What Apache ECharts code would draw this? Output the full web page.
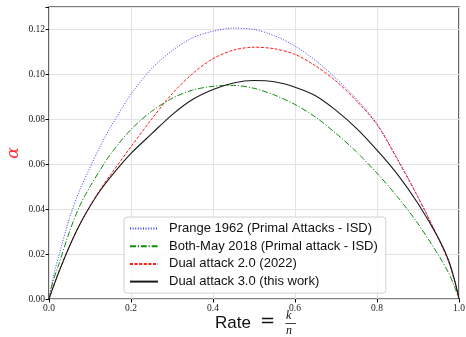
<!DOCTYPE html>
<html><head><meta charset="utf-8">
<script src="https://cdn.jsdelivr.net/npm/echarts@6/dist/echarts.min.js"></script>
<style>html,body{margin:0;padding:0;background:#fff}#c{width:466px;height:337px}</style>
</head><body><div id="c"></div>
<script>
var rates = [0, 0.01, 0.025, 0.05, 0.075, 0.1, 0.125, 0.15, 0.2, 0.25, 0.3, 0.35, 0.4, 0.45, 0.5, 0.55, 0.6, 0.65, 0.7, 0.75, 0.8, 0.85, 0.9, 0.95, 0.975, 0.99, 1.0];
var prange1962 = [0, 0.0095, 0.020, 0.036, 0.0485, 0.0585, 0.068, 0.0765, 0.0912, 0.1025, 0.1105, 0.1163, 0.1192, 0.1206, 0.1200, 0.1172, 0.1126, 0.1062, 0.0982, 0.0890, 0.0780, 0.0625, 0.0455, 0.0270, 0.0165, 0.0075, 0];
var bothMay2018 = [0, 0.008, 0.016, 0.030, 0.0415, 0.050, 0.0575, 0.0645, 0.0755, 0.0835, 0.0893, 0.0930, 0.0947, 0.0951, 0.0938, 0.0908, 0.0866, 0.0810, 0.0737, 0.0655, 0.0560, 0.0455, 0.0335, 0.0195, 0.0115, 0.0050, 0];
var dual2022 = [0, 0.0052, 0.0125, 0.0235, 0.0332, 0.0413, 0.0488, 0.0553, 0.0678, 0.0800, 0.0913, 0.1003, 0.1070, 0.1108, 0.1121, 0.1114, 0.1089, 0.1038, 0.0970, 0.0882, 0.0777, 0.0620, 0.0453, 0.0268, 0.0165, 0.0075, 0];
var dual3 = [0, 0.0052, 0.0125, 0.0235, 0.0332, 0.0413, 0.0483, 0.0543, 0.0648, 0.0735, 0.0820, 0.0888, 0.0933, 0.0962, 0.0973, 0.0967, 0.0943, 0.0905, 0.0840, 0.0760, 0.0663, 0.0555, 0.0425, 0.0270, 0.0170, 0.0078, 0];
var names = ['Prange 1962 (Primal Attacks - ISD)', 'Both-May 2018 (Primal attack - ISD)', 'Dual attack 2.0 (2022)', 'Dual attack 3.0 (this work)'];

function pairs(v){ return rates.map(function(r,i){ return [r, v[i]]; }); }

var chart = echarts.init(document.getElementById('c'), null, {renderer:'canvas'});
var tickFont = {fontFamily:'Liberation Serif', fontSize:9.5, color:'#222'};
function mk(name, vals, color, type, w){
  return {name:name, type:'line', data:pairs(vals), smooth:0.3, showSymbol:false, symbol:'none',
    lineStyle:{color:color, width:w, type:type}, itemStyle:{color:color}, z: 3};
}
chart.setOption({
  animation:false,
  grid:{left:49, right:7, top:7, bottom:38, show:true, borderColor:'#000', borderWidth:1.2, backgroundColor:'transparent', containLabel:false, outerBoundsMode:'none'},
  xAxis:{type:'value', min:0, max:1, interval:0.2,
    axisLine:{show:false}, axisTick:{show:true, inside:false, length:3.5, lineStyle:{color:'#000'}},
    axisLabel:Object.assign({margin:4, formatter:function(v){return v.toFixed(1);}}, tickFont),
    splitLine:{show:true, lineStyle:{color:'#e3e3e3', width:1}}},
  yAxis:{type:'value', min:0, max:0.13, interval:0.02,
    axisLine:{show:false}, axisTick:{show:true, inside:false, length:3.5, lineStyle:{color:'#000'}},
    axisLabel:Object.assign({margin:4, formatter:function(v){return v>0.125?'':v.toFixed(2);}}, tickFont),
    splitLine:{show:true, lineStyle:{color:'#e3e3e3', width:1}},
    name:'α', nameLocation:'middle', nameRotate:90, nameGap:27, nameMoveOverlap:false,
    nameTextStyle:{color:'#ff3333', fontFamily:'DejaVu Serif', fontStyle:'italic', fontSize:17}},
  legend:{orient:'vertical', left:124, top:217, itemWidth:28, itemHeight:10, itemGap:4.7,
    padding:[5,8,5,5], backgroundColor:'rgba(255,255,255,0.85)', borderColor:'#d0d0d0', borderWidth:1, borderRadius:3,
    itemStyle:{opacity:0},
    textStyle:{fontFamily:'Liberation Sans', fontSize:13, lineHeight:12, color:'#111', padding:[0,0,0,6]},
    data:names},
  series:[
    mk(names[0], prange1962, '#3a3aff', [1,1.6], 1),
    mk(names[1], bothMay2018, '#138a13', [6,1.8,1.2,1.8], 1),
    mk(names[2], dual2022, '#ff1a1a', [3,1.6], 1),
    mk(names[3], dual3, '#1a1a1a', 'solid', 1.1)
  ],
  graphic:[
    {type:'text', left:215, top:315, style:{text:'Rate', font:'17px "Liberation Sans"', fill:'#111'}},
    {type:'text', left:260, top:312, style:{text:'=', font:'18px "DejaVu Sans"', fill:'#111'}},
    {type:'text', left:286, top:310, style:{text:'k', font:'italic 12px "Liberation Serif"', fill:'#111'}},
    {type:'line', shape:{x1:285.5, y1:323.5, x2:296, y2:323.5}, style:{stroke:'#111', lineWidth:0.8}},
    {type:'text', left:286, top:325, style:{text:'n', font:'italic 12px "Liberation Serif"', fill:'#111'}}
  ]
});
</script></body></html>
